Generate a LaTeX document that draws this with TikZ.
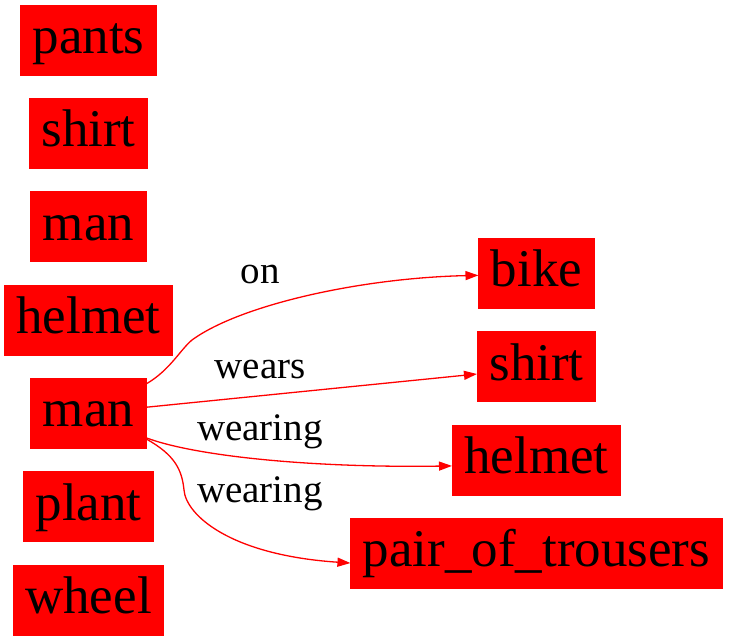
\documentclass[tikz,border=0pt]{standalone}
\usepackage{fontspec}
\setmainfont{Liberation Serif}
\usetikzlibrary{arrows.meta}

\begin{document}
\begin{tikzpicture}[
  x=1pt, y=-1pt,
  >={Triangle[length=13pt,width=9pt]},
  obj/.style={fill=red,draw=red,line width=0.8pt,font=\fontsize{53}{60}\selectfont,inner xsep=12pt,inner ysep=0pt,text height=37pt,text depth=10pt,minimum height=70pt},
  lbl/.style={font=\fontsize{39}{44}\selectfont,anchor=base,inner sep=0pt},
  rel/.style={->,draw=red,line width=1.3pt}
]
\useasboundingbox (0,0) rectangle (729,640);

% left column
\node[obj] (pants) at (88.5,40) {pants};
\node[obj] (shirtA) at (88.5,133.3) {shirt};
\node[obj] (manA) at (88.5,226.7) {man};
\node[obj] (helmetA) at (88.5,320) {helmet};
\node[obj] (manB) at (88.5,413.3) {man};
\node[obj] (plant) at (88.5,506.7) {plant};
\node[obj] (wheel) at (88.5,600) {wheel};

% right column
\node[obj] (bike) at (536.5,273.3) {bike};
\node[obj] (shirtB) at (536.5,366.7) {shirt};
\node[obj] (helmetB) at (536.5,460) {helmet};
\node[obj] (trousers) at (536.5,553.3) {pair\_of\_trousers};

% relation labels
\node[lbl] (lon) at (260,283) {on};
\node[lbl] (lwears) at (260,378) {wears};
\node[lbl] (lwearA) at (260,440) {wearing};
\node[lbl] (lwearB) at (260,502) {wearing};

\draw[rel] (manB.27) .. controls (170,370) and (180,350) .. (192,340)
  .. controls (240,305) and (360,278) .. (bike.182);
\draw[rel] (manB.6) -- (shirtB.187);
\draw[rel] (manB.337) .. controls (195,456) and (310,468) .. (helmetB.184);
\draw[rel] (manB.336) .. controls (175,455) and (182,470) .. (184,490)
  .. controls (186,515) and (230,555) .. (trousers.183.5);
\end{tikzpicture}
\end{document}
